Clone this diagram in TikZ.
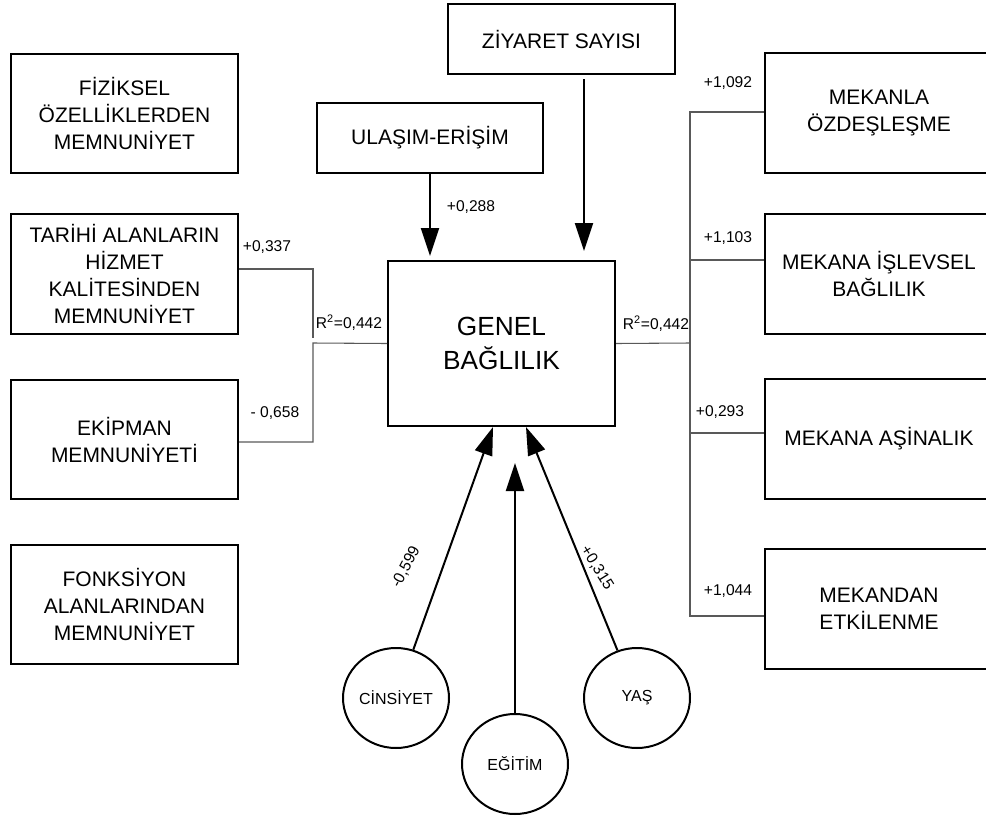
\documentclass[tikz,border=0pt]{standalone}
\usepackage{fontspec}
\setmainfont{Liberation Sans}
\usetikzlibrary{arrows.meta,shapes.geometric}

\begin{document}
\begin{tikzpicture}[x=0.75pt, y=-0.75pt,
    box/.style={draw, line width=1.5pt, align=center, inner sep=0pt,
        font=\fontsize{15.75}{20.25}\selectfont,
        minimum width=170.25pt, minimum height=89.25pt},
    topbox/.style={box, minimum height=52.5pt},
    rightbox/.style={box, minimum width=171pt, minimum height=90pt},
    demo/.style={draw, ellipse, line width=1.5pt, inner sep=0pt,
        minimum width=79.5pt, minimum height=75pt,
        font=\fontsize{12}{14}\selectfont},
    lbl/.style={inner sep=0pt, font=\fontsize{11.7}{14}\selectfont},
    link/.style={draw=black!65, line width=0.8pt},
    arr/.style={line width=1.5pt, -{Triangle[length=21pt,width=13.5pt]}}]

    \useasboundingbox (0,0) rectangle (986,818);

    % Left column
    \node[box] (fiz) at (124.5,113.5) {FİZİKSEL\\ÖZELLİKLERDEN\\MEMNUNİYET};
    \node[box, minimum height=90pt] (tar) at (124.5,274) {TARİHİ ALANLARIN\\HİZMET\\KALİTESİNDEN\\MEMNUNİYET};
    \node[box] (ekp) at (124.5,439.5) {EKİPMAN\\MEMNUNİYETİ};
    \node[box] (fon) at (124.5,604.5) {FONKSİYON\\ALANLARINDAN\\MEMNUNİYET};

    % Top boxes
    \node[topbox, minimum width=169.5pt] (ulas) at (430,138) {ULAŞIM-ERİŞİM};
    \node[topbox] (ziy) at (561.5,39) {ZİYARET SAYISI};

    % Centre
    \node[box, minimum height=123.75pt, font=\fontsize{19.7}{25.5}\selectfont] (genel) at (501.5,343.5) {GENEL\\BAĞLILIK};

    % Right column
    \node[rightbox] (mek1) at (879,113) {MEKANLA\\ÖZDEŞLEŞME};
    \node[rightbox] (mek2) at (879,273.5) {MEKANA İŞLEVSEL\\BAĞLILIK};
    \node[rightbox] (mek3) at (879,438.5) {MEKANA AŞİNALIK};
    \node[rightbox] (mek4) at (879,609) {MEKANDAN\\ETKİLENME};

    % Demographics
    \node[demo] (cins) at (396,698) {CİNSİYET};
    \node[demo] (egt) at (515,764) {EĞİTİM};
    \node[demo] (yas) at (637,698) {YAŞ};

    % Junctions
    \coordinate (lj) at (313,343);
    \coordinate (ljtop) at (313,338);
    \coordinate (rj) at (690,343);
    \coordinate (egtip) at (515,463);

    % Left connectors
    \draw[link] (tar.east |- 0,269) -| (ljtop);
    \draw[link] (genel.west) -- (lj) |- (ekp.east |- 0,442);

    % Right connectors
    \draw[link] (genel.east) -- (rj);
    \draw[link] (mek1.west |- 0,112) -| (rj) |- (mek4.west |- 0,616);
    \draw[link] (rj |- 0,260) -- (mek2.west |- 0,260);
    \draw[link] (rj |- 0,433) -- (mek3.west |- 0,433);

    % Arrows into the centre
    \draw[arr, shorten >=3pt] (ulas) -- (ulas |- genel.north);
    \draw[arr, shorten >=6.75pt, shorten <=3pt] (ziy.south -| 584,0) -- (genel.north -| 584,0);
    \draw[arr] (cins) -- (genel.south -| 493,0);
    \draw[arr] (egt) -- (egtip);
    \draw[arr] (yas) -- (genel.south -| 526,0);

    % Coefficients
    \node[lbl] (c337) at (267,247) {+0,337};
    \node[lbl] (c658) at (275,413) {- 0,658};
    \node[lbl] (c288) at (471,207) {+0,288};
    \node[lbl] (r2l) at (349,323) {R\textsuperscript{2}=0,442};
    \node[lbl] (r2r) at (656,324) {R\textsuperscript{2}=0,442};
    \node[lbl] (c1092) at (728,83) {+1,092};
    \node[lbl] (c1103) at (728,238) {+1,103};
    \node[lbl] (c293) at (720,412) {+0,293};
    \node[lbl] (c1044) at (728,591) {+1,044};
    \node[lbl, rotate=62] (c599) at (406,567) {-0,599};
    \node[lbl, rotate=-58] (c315) at (597,568) {+0,315};

\end{tikzpicture}
\end{document}
